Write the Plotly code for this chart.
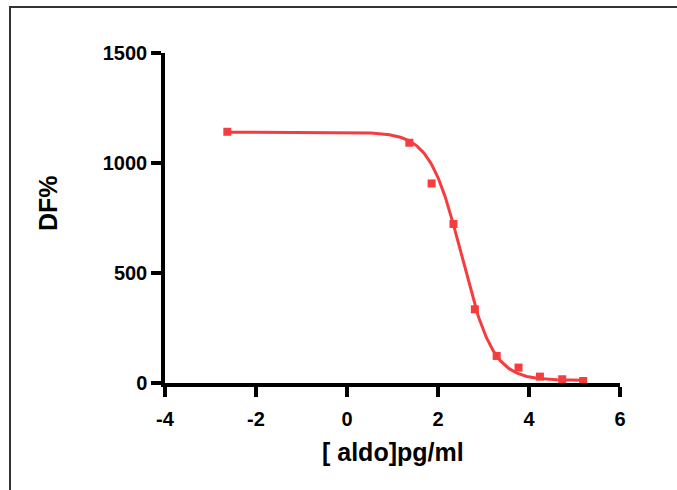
import numpy as np
import plotly.graph_objects as go

# Data
log_conc = [-2.63, 1.37, 1.86, 2.34, 2.81, 3.29, 3.77, 4.24, 4.73, 5.19]
df_pct = [1142, 1092, 907, 723, 335, 123, 70, 29, 17, 9]

# Four-parameter logistic fit parameters (estimated from the drawn curve)
fit_top = 1140
fit_bottom = 12
fit_log_ec50 = 2.52
fit_hill = 1.25

x_ticks = [-4, -2, 0, 2, 4, 6]
x_tick_text = ["-4", "-2", "0", "2", "4", "6"]
y_ticks = [0, 500, 1000, 1500]
y_tick_text = ["0", "500", "1000", "1500"]
x_title = "[ aldo]pg/ml"
y_title = "DF%"

red = "#F53C3F"
curve_x = np.linspace(min(log_conc), max(log_conc), 400)
curve_y = fit_bottom + (fit_top - fit_bottom) / (1 + 10 ** ((curve_x - fit_log_ec50) * fit_hill))

fig = go.Figure()
fig.add_trace(go.Scatter(x=curve_x, y=curve_y, mode="lines",
                         line=dict(color=red, width=3), hoverinfo="skip", showlegend=False))
fig.add_trace(go.Scatter(x=log_conc, y=df_pct, mode="markers",
                         marker=dict(symbol="square", size=8, color=red, line=dict(width=0)),
                         showlegend=False, cliponaxis=False))

font_tick = dict(family="Liberation Sans", size=20, color="black", weight="bold")
font_title = dict(family="Liberation Sans", size=25, color="black", weight="bold")

axis_common = dict(showline=True, linecolor="black", linewidth=3.5, ticks="outside",
                   ticklen=10, tickwidth=3.5, tickcolor="black", showgrid=False,
                   zeroline=False, tickfont=font_tick)

W, H = 677, 490
plot_left, plot_right, plot_top, plot_bottom = 165, 620, 53, 383  # reference pixels
L, T = plot_left, plot_top
R = W - plot_right
B = H - plot_bottom
pw, ph = plot_right - plot_left, plot_bottom - plot_top

def px_x(p):
    return (p - plot_left) / pw

def px_y(p):
    return (plot_bottom - p) / ph

fig.update_layout(
    width=W, height=H,
    margin=dict(l=L, r=R, t=T, b=B, pad=0),
    paper_bgcolor="white", plot_bgcolor="white",
    xaxis=dict(range=[-4, 6], tickvals=x_ticks, ticktext=x_tick_text,
               ticklabelstandoff=5, **axis_common),
    yaxis=dict(range=[0, 1500], tickvals=y_ticks, ticktext=y_tick_text, **axis_common),
    annotations=[
        dict(text=x_title, xref="paper", yref="paper", x=0.5, y=px_y(452),
             xanchor="center", yanchor="middle", showarrow=False, font=font_title),
        dict(text=y_title, xref="paper", yref="paper", x=px_x(48), y=px_y(203),
             xanchor="center", yanchor="middle", showarrow=False, textangle=-90, font=font_title),
    ],
    shapes=[
        dict(type="rect", xref="paper", yref="paper",
             x0=px_x(10), x1=px_x(720), y0=px_y(540), y1=px_y(7),
             line=dict(color="#333333", width=2), fillcolor="rgba(0,0,0,0)", layer="below"),
    ],
)

fig.write_html("out.html", config={"displayModeBar": False},
               post_script="document.body.style.margin='0';document.body.style.overflow='hidden';")
